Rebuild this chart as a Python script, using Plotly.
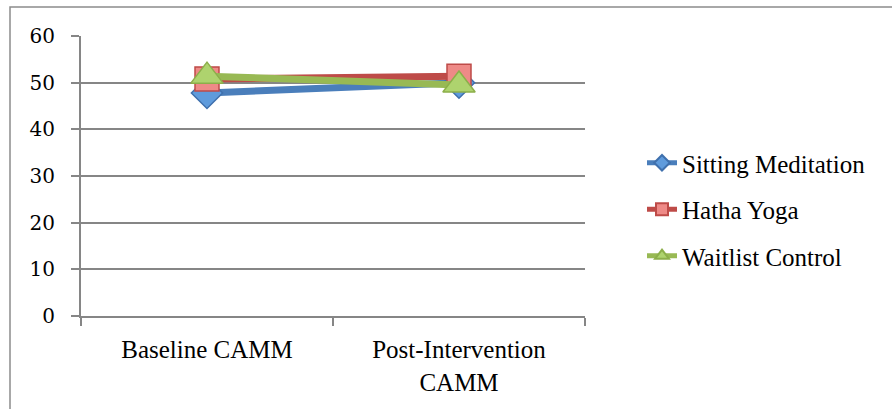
import plotly.graph_objects as go

# Mean CAMM scores per group at each time point
time_points = ["Baseline CAMM", "Post-Intervention<br>CAMM"]
sitting_meditation = [47.8, 50.0]
hatha_yoga = [50.8, 51.4]
waitlist_control = [51.4, 49.5]

series_names = ["Sitting Meditation", "Hatha Yoga", "Waitlist Control"]
y_ticks = [0, 10, 20, 30, 40, 50, 60]

W, H = 892, 409
ML, MR, MT, MB = 81, 307, 36, 93
PW = W - ML - MR
PH = H - MT - MB

styles = [
    dict(line="#4A7EBB", fill="#5F9BDC", edge="#3F70AD", symbol="diamond", size=24),
    dict(line="#BE4B48", fill="#EE8A87", edge="#BE4B48", symbol="square", size=24),
    dict(line="#98B954", fill="#AED36E", edge="#8CAF4A", symbol="triangle-up", size=28),
]

fig = go.Figure()
for i, (name, vals, st) in enumerate(zip(series_names,
                                          [sitting_meditation, hatha_yoga, waitlist_control],
                                          styles)):
    fig.add_trace(go.Scatter(
        x=time_points, y=vals, name=name, mode="lines+markers",
        legendgroup=f"g{i}",
        line=dict(color=st["line"], width=7),
        marker=dict(symbol=st["symbol"], size=st["size"], color=st["fill"],
                    line=dict(color=st["edge"], width=1.5)),
    ))

serif = "Times New Roman, Liberation Serif, serif"

fig.update_layout(
    width=W, height=H,
    margin=dict(l=ML, r=MR, t=MT, b=MB, pad=0),
    paper_bgcolor="white", plot_bgcolor="white",
    font=dict(family=serif),
    showlegend=True,
    legend=dict(
        x=(642 - ML) / PW, xanchor="left",
        y=1 - (140 - MT) / PH, yanchor="top",
        font=dict(family=serif, size=25, color="black"),
        traceorder="grouped", tracegroupgap=11,
        bgcolor="rgba(0,0,0,0)", itemsizing="constant",
    ),
    xaxis=dict(
        type="category", range=[-0.5, 1.5],
        tickson="boundaries", ticks="outside", ticklen=8, tickwidth=2,
        tickcolor="#868686", showline=True, linecolor="#868686", linewidth=2,
        showgrid=False, zeroline=False, ticklabelstandoff=10,
        tickfont=dict(family=serif, size=25, color="black"),
    ),
    yaxis=dict(
        range=[0, 60], tickvals=y_ticks, ticktext=[str(v) for v in y_ticks],
        ticks="outside", ticklen=8, tickwidth=2, tickcolor="#868686",
        showline=True, linecolor="#868686", linewidth=2,
        showgrid=True, gridcolor="#868686", gridwidth=2,
        zeroline=False, ticklabelstandoff=12,
        tickfont=dict(family="DejaVu Serif, serif", size=20, color="black"),
    ),
    shapes=[dict(
        type="rect", xref="paper", yref="paper",
        x0=(10 - ML) / PW, x1=(900 - ML) / PW,
        y0=1 - (420 - MT) / PH, y1=1 - (7 - MT) / PH,
        line=dict(color="#8C8C8C", width=1.5), layer="below",
    )],
)

fig.write_html("out.html")
